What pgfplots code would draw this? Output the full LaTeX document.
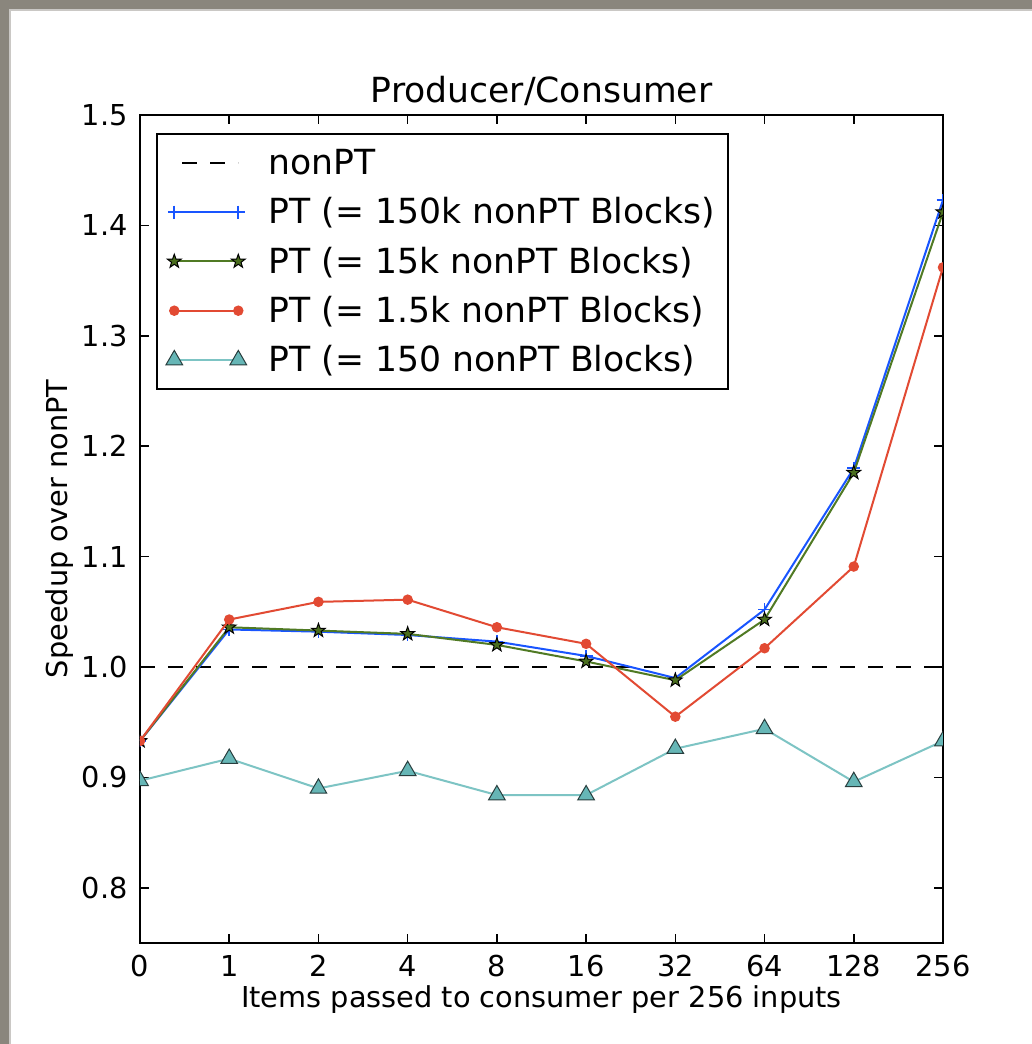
\documentclass[border=0pt]{standalone}
\usepackage{fontspec}
\setmainfont{DejaVu Sans}
\usepackage{pgfplots}
\pgfplotsset{compat=1.18}
\definecolor{cblue}{RGB}{25,85,255}
\definecolor{cgreen}{RGB}{80,122,36}
\definecolor{cgreenfill}{RGB}{74,110,30}
\definecolor{cred}{RGB}{226,74,51}
\definecolor{cteal}{RGB}{125,196,196}
\definecolor{ctealfill}{RGB}{102,182,182}
\definecolor{ctealedge}{RGB}{40,62,62}
\definecolor{framegray}{RGB}{138,134,125}
\pgfdeclareplotmark{fstar}{%
  \pgfpathmoveto{\pgfpointpolar{90}{\pgfplotmarksize}}%
  \pgfpathlineto{\pgfpointpolar{126}{0.4\pgfplotmarksize}}%
  \pgfpathlineto{\pgfpointpolar{162}{\pgfplotmarksize}}%
  \pgfpathlineto{\pgfpointpolar{198}{0.4\pgfplotmarksize}}%
  \pgfpathlineto{\pgfpointpolar{234}{\pgfplotmarksize}}%
  \pgfpathlineto{\pgfpointpolar{270}{0.4\pgfplotmarksize}}%
  \pgfpathlineto{\pgfpointpolar{306}{\pgfplotmarksize}}%
  \pgfpathlineto{\pgfpointpolar{342}{0.4\pgfplotmarksize}}%
  \pgfpathlineto{\pgfpointpolar{18}{\pgfplotmarksize}}%
  \pgfpathlineto{\pgfpointpolar{54}{0.4\pgfplotmarksize}}%
  \pgfpathclose\pgfusepathqfillstroke}
\pgfplotstableread{
x  blue   green  red    teal
0  0.933  0.933  0.933  0.897
1  1.034  1.036  1.043  0.917
2  1.032  1.033  1.059  0.890
3  1.029  1.030  1.061  0.906
4  1.023  1.020  1.036  0.884
5  1.010  1.005  1.021  0.884
6  0.990  0.988  0.955  0.926
7  1.052  1.043  1.017  0.944
8  1.180  1.176  1.091  0.896
9  1.423  1.412  1.362  0.933
}\datatable
\begin{document}
\begin{tikzpicture}[x=1pt,y=1pt]
\useasboundingbox (0,0) rectangle (516,522);
\fill[white] (0,0) rectangle (516,522);
\fill[framegray] (0,517.5) rectangle (516,522);
\fill[framegray] (0,0) rectangle (4.5,522);
\fill[framegray!45] (4.5,0) rectangle (5.5,517.5);
\fill[framegray!45] (4.5,516.5) rectangle (516,517.5);
\begin{axis}[
  at={(70pt,50.5pt)}, anchor=south west,
  scale only axis, width=401.5pt, height=414pt,
  xmin=0, xmax=9, ymin=0.75, ymax=1.5,
  xtick={0,...,9},
  xticklabels={0,1,2,4,8,16,32,64,128,256},
  ytick={0.8,0.9,1.0,1.1,1.2,1.3,1.4,1.5},
  y tick label style={/pgf/number format/fixed, /pgf/number format/fixed zerofill, /pgf/number format/precision=1},
  /pgf/number format/assume math mode=true,
  tick align=inside, major tick length=4.5pt,
  tick style={black, line width=0.8pt},
  axis line style={line width=1.2pt},
  ticklabel style={font=\fontsize{14.4}{17}\selectfont},
  yticklabel style={inner sep=0pt, xshift=-6pt},
  xticklabel style={inner sep=0pt, yshift=-6pt},
  title={Producer/Consumer},
  title style={font=\fontsize{17.3}{20}\selectfont, at={(axis description cs:0.5,1)}, anchor=base, yshift=0.5pt},
  xlabel={Items passed to consumer per 256 inputs},
  xlabel style={font=\fontsize{14.4}{17}\selectfont, at={(axis description cs:0.5,0)}, anchor=base, yshift=-32pt},
  ylabel={Speedup over nonPT},
  ylabel style={font=\fontsize{14.4}{17}\selectfont, at={(axis description cs:-0.0897,0.5)}, anchor=base},
  clip marker paths=true,
  legend cell align=left,
  legend image code/.code={\draw[#1] plot coordinates {(0pt,0pt) (32pt,0pt)};},
  legend style={at={(0.0199,0.978)}, anchor=north west, draw=black, line width=1pt,
    font=\fontsize{17.3}{20}\selectfont, inner xsep=4.5pt, inner ysep=5pt, row sep=6pt,
    /tikz/every odd column/.append style={column sep=9pt}},
]
\addplot[black, dashed, line width=1pt, dash pattern=on 7.5pt off 6.5pt, forget plot] coordinates {(0,1.0) (9,1.0)};
\addlegendimage{black, line width=1pt, dash pattern=on 7.5pt off 6.5pt, dash phase=-4pt}
\addlegendentry{\vphantom{(}nonPT}
\addplot[cblue, line width=1pt, mark=+, mark size=3.2pt, mark options={line width=0.8pt}] table[x=x,y=blue] {\datatable};
\addlegendentry{PT (= 150k nonPT Blocks)}
\addplot[cgreen, line width=1pt, mark=fstar, mark size=3.6pt, mark options={fill=cgreenfill, draw=black, line width=0.5pt}] table[x=x,y=green] {\datatable};
\addlegendentry{PT (= 15k nonPT Blocks)}
\addplot[cred, line width=1pt, mark=*, mark size=2.1pt, mark options={fill=cred, draw=cred}] table[x=x,y=red] {\datatable};
\addlegendentry{PT (= 1.5k nonPT Blocks)}
\addplot[cteal, line width=1pt, mark=triangle*, mark size=4.8pt, mark options={fill=ctealfill, draw=ctealedge, line width=0.5pt}] table[x=x,y=teal] {\datatable};
\addlegendentry{PT (= 150 nonPT Blocks)}
\end{axis}
\end{tikzpicture}
\end{document}
